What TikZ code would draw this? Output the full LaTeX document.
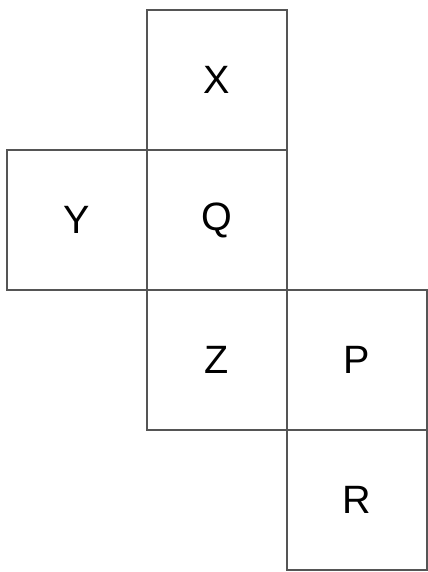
\documentclass[tikz,border=0pt]{standalone}
\usepackage{fontspec}
\setmainfont{Liberation Sans}
\usetikzlibrary{calc}

\begin{document}
\begin{tikzpicture}[x=0.02cm,y=-0.02cm]

% Edge grey of the net
\definecolor{netgrey}{RGB}{85,85,85}

\tikzset{
  face/.style={draw=netgrey, line width=1.1pt, minimum size=2.8cm,
    inner sep=0pt, outer sep=0pt, font=\fontsize{22.5}{26}\selectfont}
}

\useasboundingbox (0,0) rectangle (427,572);

% Faces of the net
\node[face] (X) at (217,80) {X};
\node[face] (Y) at (77,220) {Y};
\node[face] (Q) at (217,220) {Q};
\node[face] (Z) at (217,360) {Z};
\node[face] (P) at (357,360) {P};
\node[face] (R) at (357,500) {R};

\end{tikzpicture}
\end{document}
